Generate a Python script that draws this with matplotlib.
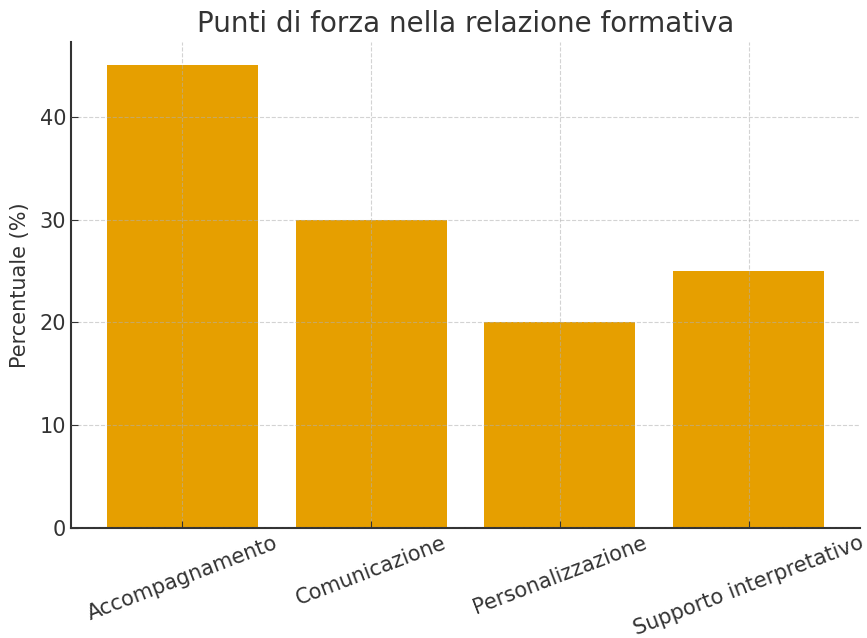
import matplotlib.pyplot as plt

categorie = ["Accompagnamento", "Comunicazione", "Personalizzazione", "Supporto interpretativo"]
percentuali = [45, 30, 20, 25]

fig = plt.figure(figsize=(8.67, 6.38), dpi=100)
ax = fig.add_axes([0.082, 0.172, 0.910, 0.762])

ax.bar(categorie, percentuali, width=0.8, color="#E69F00")

ax.set_title("Punti di forza nella relazione formativa", fontsize=20, color="#333333", pad=7)
ax.set_ylabel("Percentuale (%)", fontsize=15, color="#333333", labelpad=7)

ax.grid(True, linestyle="--", linewidth=0.8, color="#b0b0b0", alpha=0.55)
ax.set_axisbelow(False)

for s in ["top", "right"]:
    ax.spines[s].set_visible(False)
for s in ["left", "bottom"]:
    ax.spines[s].set_color("#333333")
    ax.spines[s].set_linewidth(1.5)

ax.tick_params(axis="both", direction="in", labelsize=15, colors="#333333", length=5)
plt.setp(ax.get_xticklabels(), rotation=21, ha="center")

fig.savefig("out.png", dpi=100)
